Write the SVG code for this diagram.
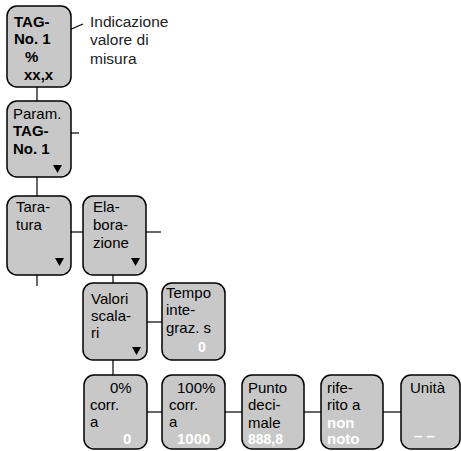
<svg xmlns="http://www.w3.org/2000/svg" width="461" height="451" viewBox="0 0 461 451">
  <style>
    .box { fill: #c8c8c8; stroke: #000; stroke-width: 1.5; }
    .ln { stroke: #000; stroke-width: 1.2; fill: none; }
    text { font-family: "Liberation Sans", Arial, sans-serif; font-size: 15px; fill: #000; }
    .b { font-weight: bold; }
    .w { fill: #fff; font-weight: bold; }
    .lbl { font-size: 15.5px; fill: #222; }
  </style>
  <defs>
    <path id="tri" d="M0,0 L9,0 L4.5,8 Z" fill="#000"/>
  </defs>

  <g id="connectors">
    <line class="ln" x1="37" y1="87" x2="37" y2="101"/>
    <line class="ln" x1="71" y1="133" x2="79" y2="133"/>
    <line class="ln" x1="37" y1="177" x2="37" y2="196"/>
    <line class="ln" x1="71" y1="232" x2="83" y2="232"/>
    <line class="ln" x1="146" y1="232" x2="161" y2="232"/>
    <line class="ln" x1="37" y1="275" x2="37" y2="286"/>
    <line class="ln" x1="113" y1="275" x2="113" y2="283"/>
    <line class="ln" x1="147" y1="322" x2="162" y2="322"/>
    <line class="ln" x1="113" y1="360" x2="113" y2="375"/>
    <line class="ln" x1="147" y1="412" x2="162" y2="412"/>
    <line class="ln" x1="225" y1="412" x2="242" y2="412"/>
    <line class="ln" x1="304" y1="412" x2="321" y2="412"/>
    <line class="ln" x1="383" y1="412" x2="401" y2="412"/>
    <line class="ln" x1="55" y1="36" x2="83" y2="24"/>
  </g>

  <g id="measure-display">
    <rect class="box" x="7" y="6" width="64" height="81" rx="10"/>
    <text class="b" x="14" y="27">TAG-</text>
    <text class="b" x="14" y="44">No.  1</text>
    <text class="b" x="25" y="62">%</text>
    <text class="b" x="24" y="80">xx,x</text>
  </g>

  <g id="measure-label">
    <text class="lbl" x="90" y="27">Indicazione</text>
    <text class="lbl" x="90" y="45">valore di</text>
    <text class="lbl" x="90" y="64">misura</text>
  </g>

  <g id="param">
    <rect class="box" x="7" y="101" width="64" height="76" rx="10"/>
    <text x="13" y="119">Param.</text>
    <text class="b" x="13" y="136">TAG-</text>
    <text class="b" x="13" y="154">No.  1</text>
    <use href="#tri" x="53" y="165"/>
  </g>

  <g id="taratura">
    <rect class="box" x="7" y="196" width="64" height="79" rx="10"/>
    <text x="16" y="212">Tara-</text>
    <text x="16" y="230">tura</text>
    <use href="#tri" x="55" y="258"/>
  </g>

  <g id="elaborazione">
    <rect class="box" x="83" y="196" width="63" height="79" rx="10"/>
    <text x="93" y="212">Ela-</text>
    <text x="93" y="230">bora-</text>
    <text x="93" y="248">zione</text>
    <use href="#tri" x="131" y="258"/>
  </g>

  <g id="valori-scalari">
    <rect class="box" x="83" y="283" width="64" height="77" rx="10"/>
    <text x="91" y="304">Valori</text>
    <text x="91" y="321">scala-</text>
    <text x="91" y="338">ri</text>
    <use href="#tri" x="132" y="347"/>
  </g>

  <g id="tempo-integrazione">
    <rect class="box" x="162" y="283" width="63" height="77" rx="10"/>
    <text x="166" y="298">Tempo</text>
    <text x="166" y="315">inte-</text>
    <text x="166" y="333">graz.  s</text>
    <text class="w" x="198" y="352" style="font-size:14px">0</text>
  </g>

  <g id="corr-0">
    <rect class="box" x="84" y="375" width="63" height="74" rx="10"/>
    <text x="110" y="393">0%</text>
    <text x="90" y="410">corr.</text>
    <text x="90" y="427">a</text>
    <text class="w" x="123" y="444">0</text>
  </g>

  <g id="corr-100">
    <rect class="box" x="162" y="375" width="63" height="74" rx="10"/>
    <text x="177" y="393">100%</text>
    <text x="169" y="410">corr.</text>
    <text x="169" y="427">a</text>
    <text class="w" x="177" y="444">1000</text>
  </g>

  <g id="punto-decimale">
    <rect class="box" x="242" y="375" width="62" height="74" rx="10"/>
    <text x="248" y="393">Punto</text>
    <text x="248" y="410">deci-</text>
    <text x="248" y="428">male</text>
    <text class="w" x="248" y="444" style="font-size:14px">888,8</text>
  </g>

  <g id="riferito">
    <rect class="box" x="321" y="375" width="62" height="74" rx="10"/>
    <text x="327" y="393">rife-</text>
    <text x="327" y="410">rito a</text>
    <text class="w" x="327" y="428">non</text>
    <text class="w" x="327" y="444">noto</text>
  </g>

  <g id="unita">
    <rect class="box" x="401" y="375" width="59" height="74" rx="10"/>
    <text x="410" y="393">Unità</text>
    <text class="w" x="414" y="441">– –</text>
  </g>
</svg>
